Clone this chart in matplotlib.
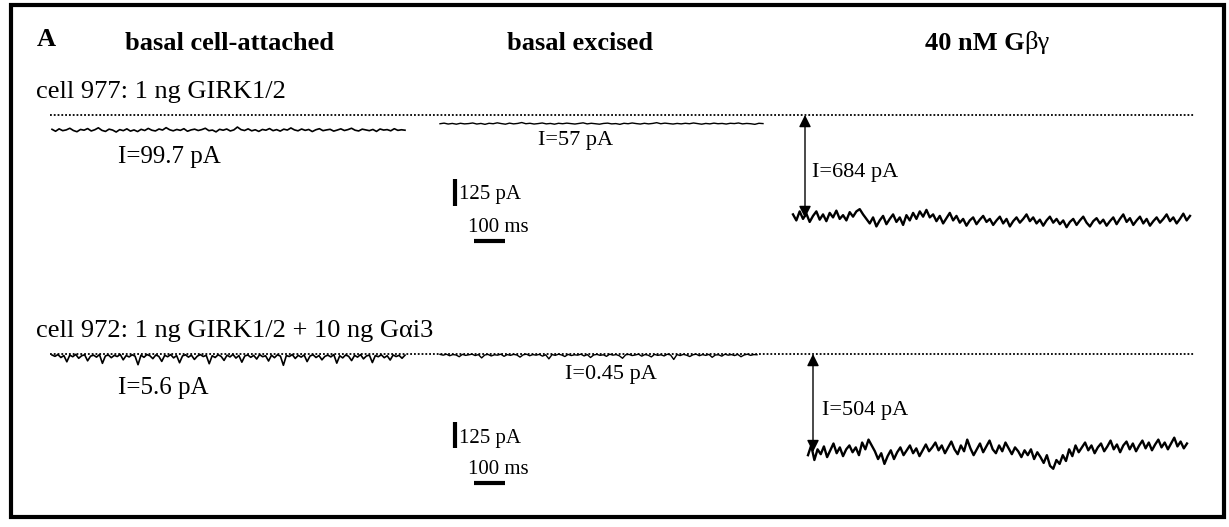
import matplotlib
matplotlib.use("Agg")
import matplotlib.pyplot as plt
import numpy as np
from matplotlib.patches import Rectangle

W, H = 1229, 527
SERIF = ['Liberation Serif', 'DejaVu Serif']
MS_PER_PX = 100 / 31          # 100 ms scale bar is ~31 px wide

# ---- data (pA) ----
cell977_attached = [-95, -108, -92, -104, -99, -88, -103, -111, -96, -101, -90, -106, -98, -85, -102, -109, -94, -100, -113, -97,
                    -104, -92, -107, -99, -110, -95, -103, -89, -101, -106, -93, -100, -84, -98, -105, -96, -102, -91, -108, -99,
                    -94, -103, -97, -88, -104, -100, -112, -95, -101, -93, -106, -99, -80, -97, -103, -92, -105, -98, -109, -96,
                    -101, -90, -104, -97, -107, -94, -100, -86, -99, -105, -93, -102, -96, -110, -98, -91, -104, -99, -95, -107,
                    -100, -92, -103, -97, -88, -101, -106, -94, -99, -104, -96, -109, -93, -100, -97, -105, -91, -102, -98, -101]
cell977_excised = [-58, -54, -60, -56, -61, -55, -59, -57, -53, -60, -56, -62, -55, -58, -52, -57, -61, -54, -59, -56,
                   -50, -58, -55, -60, -57, -53, -59, -56, -61, -55, -58, -54, -57, -60, -56, -52, -59, -55, -58, -61,
                   -56, -54, -59, -57, -62, -55, -58, -53, -57, -60, -55, -59, -56, -51, -58, -54, -57, -60, -56, -59,
                   -55, -58, -53, -57, -61, -56, -59, -54, -58, -56, -60, -55, -57, -53, -59, -56, -58, -62, -55, -57]
cell977_gbg = [-660, -700, -640, -690, -655, -710, -670, -640, -695, -660, -705, -650, -680, -635, -690, -665, -700, -645, -675, -640,
               -625, -660, -690, -720, -680, -740, -700, -670, -725, -690, -660, -710, -680, -730, -665, -700, -650, -690, -640, -675,
               -630, -680, -660, -705, -670, -720, -685, -650, -700, -670, -715, -690, -735, -700, -680, -725, -695, -670, -710, -690,
               -730, -700, -675, -720, -690, -740, -705, -680, -715, -690, -660, -705, -680, -720, -695, -735, -700, -675, -715, -690,
               -725, -700, -745, -710, -690, -730, -700, -675, -715, -740, -705, -685, -720, -695, -735, -705, -680, -725, -690, -660,
               -710, -685, -730, -700, -675, -720, -690, -735, -705, -680, -715, -690, -660, -705, -680, -720, -690, -655, -700, -670]
cell972_attached = [-5, -12, -3, -18, -8, -40, -6, -14, -2, -22, -9, -4, -35, -11, -6, -16, -3, -48, -10, -5,
                    -19, -7, -13, -2, -30, -8, -15, -4, -11, -55, -6, -17, -3, -9, -24, -5, -12, -38, -7, -14,
                    -3, -20, -8, -45, -10, -4, -16, -6, -28, -11, -3, -13, -7, -50, -9, -18, -4, -12, -33, -6,
                    -15, -2, -21, -8, -42, -10, -5, -17, -7, -26, -3, -14, -9, -36, -6, -19, -4, -11, -58, -8,
                    -13, -3, -23, -7, -16, -5, -39, -10, -4, -18, -8, -30, -12, -6, -15, -3, -47, -9, -20, -5,
                    -12, -34, -7, -16, -3, -25, -10, -6, -44, -8, -14, -4, -19, -9, -31, -5, -13, -7, -22, -6]
cell972_excised = [-2, -6, -1, -9, -3, -5, -14, -2, -7, -4, -1, -8, -3, -20, -5, -2, -10, -4, -6, -1,
                   -12, -3, -7, -2, -5, -16, -4, -1, -9, -3, -6, -2, -11, -4, -25, -3, -7, -1, -5, -13,
                   -2, -8, -4, -6, -1, -10, -3, -18, -5, -2, -7, -4, -12, -1, -6, -3, -9, -22, -4, -2,
                   -8, -5, -1, -11, -3, -6, -15, -2, -7, -4, -10, -1, -5, -28, -3, -8, -2, -6, -13, -4,
                   -1, -9, -3, -7, -2, -17, -5, -4, -11, -1, -6, -3, -8, -2, -14, -5, -1, -7, -3, -4]
cell972_gbg = [-520, -470, -545, -490, -515, -475, -530, -495, -460, -510, -480, -525, -490, -470, -505, -480, -520, -455, -490, -440,
               -470, -500, -540, -510, -565, -525, -495, -540, -505, -480, -520, -495, -470, -510, -485, -525, -495, -465, -500, -480,
               -455, -495, -470, -510, -480, -450, -490, -515, -470, -500, -440, -485, -520, -490, -460, -505, -475, -445, -490, -510,
               -470, -500, -455, -485, -515, -480, -500, -530, -495, -520, -490, -540, -505, -530, -560, -520, -575, -590, -545, -565,
               -520, -550, -490, -525, -470, -505, -480, -455, -495, -470, -510, -480, -460, -500, -475, -445, -490, -465, -505, -470,
               -450, -490, -460, -500, -470, -445, -485, -455, -495, -465, -440, -480, -455, -490, -460, -430, -475, -450, -485, -460]

col_titles = ['basal cell-attached', 'basal excised', '40 nM G']
row_titles = ['cell 977: 1 ng GIRK1/2', 'cell 972: 1 ng GIRK1/2 + 10 ng G\u03b1i3']
row1_labels = ['I=99.7 pA', 'I=57 pA', 'I=684 pA']
row2_labels = ['I=5.6 pA', 'I=0.45 pA', 'I=504 pA']
mean_currents = [684, 504]

# ---- layout (pixels of the reference picture) ----
rows = [
    dict(traces=[cell977_attached, cell977_excised, cell977_gbg], labels=row1_labels,
         band=(0, 262), zero_y=115, pa_per_px=6.64,
         starts=[52, 440, 793], widths=[353, 323, 397],
         label_xy=[(118, 157), (538, 140), (812, 173)], label_fs=[18, 16, 16],
         arrow_x=805, title_y=92, bar_y=(179, 206), bar_x=455, t_bar_y=241,
         pa_text=(459, 195), ms_text=(468, 228)),
    dict(traces=[cell972_attached, cell972_excised, cell972_gbg], labels=row2_labels,
         band=(262, 527), zero_y=354, pa_per_px=5.14,
         starts=[52, 440, 808], widths=[353, 317, 379],
         label_xy=[(118, 388), (565, 375), (822, 410)], label_fs=[18, 16, 16],
         arrow_x=813, title_y=331, bar_y=(422, 448), bar_x=455, t_bar_y=483,
         pa_text=(459, 438), ms_text=(468, 470)),
]

fig = plt.figure(figsize=(W / 100, H / 100), dpi=100)
fig.patch.set_facecolor('white')


def ftext(x, y, s, **kw):
    return fig.text(x / W, 1 - y / H, s, va='center', ha='left', family=SERIF, color='black', **kw)


# panel letter and column headings
ftext(37, 40, 'A', fontsize=19, fontweight='bold')
ftext(125, 43, col_titles[0], fontsize=19, fontweight='bold')
ftext(507, 43, col_titles[1], fontsize=19, fontweight='bold')
gb = ftext(925, 43, col_titles[2], fontsize=19, fontweight='bold')
# Greek letters are not bold in the original: put them right after the bold part
fig.canvas.draw()
x_end = gb.get_window_extent().x1
ftext(x_end, 43, '\u03b2\u03b3', fontsize=19)

for r, row in enumerate(rows):
    top, bot = row['band']
    ax = fig.add_axes([0, 1 - bot / H, 1, (bot - top) / H])
    ax.set_axis_off()
    k = row['pa_per_px']
    ax.set_xlim(0, W * MS_PER_PX)
    ax.set_ylim(-(bot - row['zero_y']) * k, (row['zero_y'] - top) * k)

    # zero-current line
    ax.plot([50 * MS_PER_PX, 1195 * MS_PER_PX], [0, 0], color='black',
            lw=1.3, ls=(0, (1, 1.1)))

    for i, tr in enumerate(row['traces']):
        t0 = row['starts'][i] * MS_PER_PX
        t = t0 + np.linspace(0, row['widths'][i] * MS_PER_PX, len(tr))
        ax.plot(t, tr, color='black', lw=[1.2, 1.0, 1.7][i])
        lx, ly = row['label_xy'][i]
        ftext(lx, ly, row['labels'][i], fontsize=row['label_fs'][i])

    # amplitude arrow
    ax.annotate('', xy=(row['arrow_x'] * MS_PER_PX, -mean_currents[r]),
                xytext=(row['arrow_x'] * MS_PER_PX, 0),
                arrowprops=dict(arrowstyle='<|-|>', color='black', lw=1.0,
                                mutation_scale=18, shrinkA=0, shrinkB=0))

    # scale bars: 125 pA (vertical) and 100 ms (horizontal)
    y0, y1 = row['bar_y']
    ax.plot([row['bar_x'] * MS_PER_PX] * 2,
            [(row['zero_y'] - y0) * k, (row['zero_y'] - y1) * k],
            color='black', lw=3, solid_capstyle='butt')
    tb = (row['zero_y'] - row['t_bar_y']) * k
    ax.plot([474 * MS_PER_PX, 474 * MS_PER_PX + 100], [tb, tb],
            color='black', lw=3, solid_capstyle='butt')
    ftext(*row['pa_text'], '125 pA', fontsize=15)
    ftext(*row['ms_text'], '100 ms', fontsize=15)

    ftext(36, row['title_y'], row_titles[r], fontsize=19)

# outer frame
fig.patches.append(Rectangle((10.5 / W, 1 - 517 / H), (1224 - 10.5) / W, (517 - 5) / H,
                             transform=fig.transFigure, fill=False, lw=3, edgecolor='black'))

fig.savefig('out.png', dpi=100)
